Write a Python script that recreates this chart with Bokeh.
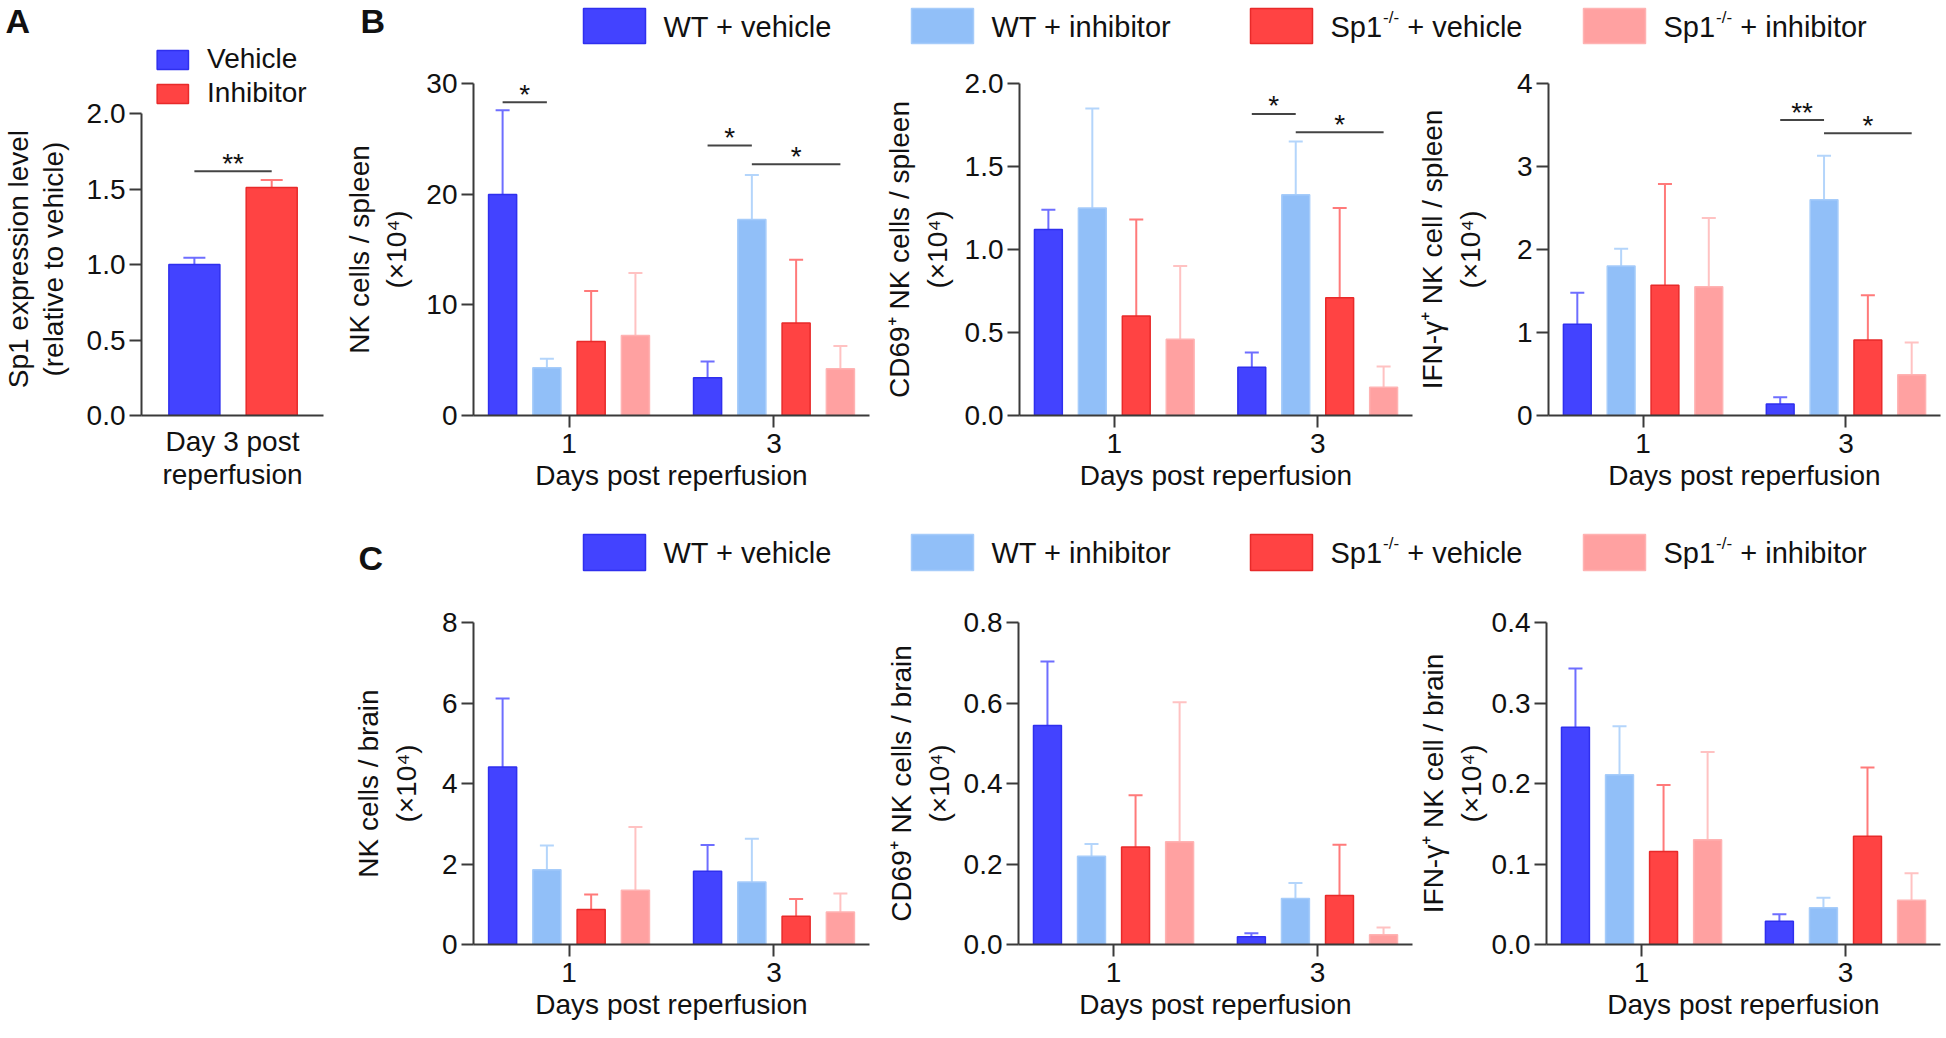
from bokeh.plotting import figure
from bokeh.layouts import row, column
from bokeh.models import Range1d, FixedTicker, Whisker, TeeHead, ColumnDataSource, Spacer
from bokeh.core.properties import value
from bokeh.embed import file_html
from bokeh.resources import INLINE

FONT = "Liberation Sans"
AX = "#3a3a3a"
TXT = "#111111"
NBSP = "\u00a0"

# ---------------- data ----------------
days = ["1", "3"]
series_labels = ["WT + vehicle", "WT + inhibitor", "Sp1-/- + vehicle", "Sp1-/- + inhibitor"]
series_fill = ["#4343FF", "#91BFF8", "#FF4343", "#FFA1A1"]
series_line = ["#2F2FEE", "#A6CCFA", "#E82A2A", "#FFB3B3"]
series_err = ["#6E6EFF", "#B4D5FB", "#FF7A7A", "#FFC2C2"]

a_groups = ["Vehicle", "Inhibitor"]
a_mean = [1.00, 1.51]
a_sem = [0.045, 0.05]
a_fill = ["#4343FF", "#FF4343"]
a_line = ["#2F2FEE", "#E82A2A"]
a_err = ["#6E6EFF", "#FF7A7A"]
a_ticks = [0.0, 0.5, 1.0, 1.5, 2.0]
a_tick_labels = ["0.0", "0.5", "1.0", "1.5", "2.0"]
a_sig = [(0, 1, 1.618, "**")]

# rows: series (WT+veh, WT+inh, Sp1+veh, Sp1+inh); columns: day 1, day 3
spleen_nk_mean = [[19.96, 3.41], [4.31, 17.70], [6.69, 8.35], [7.24, 4.22]]
spleen_nk_sem = [[7.63, 1.47], [0.82, 4.04], [4.56, 5.73], [5.63, 2.05]]
spleen_nk_ticks = [0, 10, 20, 30]
spleen_nk_tick_labels = ["0", "10", "20", "30"]
spleen_nk_sig = [(0, 0, 1, 28.3, "*"), (1, 0, 1, 24.4, "*"), (1, 1, 3, 22.7, "*")]

spleen_cd69_mean = [[1.12, 0.29], [1.25, 1.33], [0.60, 0.71], [0.46, 0.17]]
spleen_cd69_sem = [[0.12, 0.09], [0.60, 0.32], [0.58, 0.54], [0.44, 0.125]]
spleen_cd69_ticks = [0.0, 0.5, 1.0, 1.5, 2.0]
spleen_cd69_tick_labels = ["0.0", "0.5", "1.0", "1.5", "2.0"]
spleen_cd69_sig = [(1, 0, 1, 1.817, "*"), (1, 1, 3, 1.706, "*")]

spleen_ifng_mean = [[1.10, 0.14], [1.80, 2.60], [1.57, 0.91], [1.55, 0.49]]
spleen_ifng_sem = [[0.38, 0.08], [0.21, 0.53], [1.22, 0.54], [0.83, 0.39]]
spleen_ifng_ticks = [0, 1, 2, 3, 4]
spleen_ifng_tick_labels = ["0", "1", "2", "3", "4"]
spleen_ifng_sig = [(1, 0, 1, 3.56, "**"), (1, 1, 3, 3.40, "*")]

brain_nk_mean = [[4.41, 1.82], [1.86, 1.55], [0.87, 0.70], [1.35, 0.81]]
brain_nk_sem = [[1.70, 0.65], [0.60, 1.08], [0.37, 0.43], [1.57, 0.46]]
brain_nk_ticks = [0, 2, 4, 6, 8]
brain_nk_tick_labels = ["0", "2", "4", "6", "8"]

brain_cd69_mean = [[0.544, 0.019], [0.219, 0.114], [0.242, 0.122], [0.255, 0.024]]
brain_cd69_sem = [[0.159, 0.009], [0.031, 0.039], [0.129, 0.126], [0.347, 0.018]]
brain_cd69_ticks = [0.0, 0.2, 0.4, 0.6, 0.8]
brain_cd69_tick_labels = ["0.0", "0.2", "0.4", "0.6", "0.8"]

brain_ifng_mean = [[0.270, 0.029], [0.211, 0.0455], [0.1155, 0.1346], [0.130, 0.055]]
brain_ifng_sem = [[0.073, 0.0087], [0.060, 0.0125], [0.0825, 0.0854], [0.109, 0.0336]]
brain_ifng_ticks = [0.0, 0.1, 0.2, 0.3, 0.4]
brain_ifng_tick_labels = ["0.0", "0.1", "0.2", "0.3", "0.4"]

# ---------------- layout constants ----------------
OFFS = [-0.324, -0.108, 0.108, 0.324]
BAR_W = 0.137
XR = (-0.466, 1.466)
COLS = [(550, 143, 11), (534, 138, 2), (532, 131, 6)]  # width, min_border_left, min_border_right
LEG_X = [583, 911, 1250, 1583]   # page x of legend swatches
LEG_FS = 29
STAR_DY = -8

# Liberation Sans advance widths (per 1000 em)
CW = {"S": 667, "p": 556, "1": 556, " ": 278, "+": 584, "-": 333, "/": 278}


def tw(s, size):
    return sum(CW.get(c, 556) for c in s) * size / 1000.0


def style_axes(p, label_lh=1.2):
    for ax in list(p.xaxis) + list(p.yaxis):
        ax.axis_line_width = 2
        ax.axis_line_color = AX
        ax.major_tick_line_width = 2
        ax.major_tick_line_color = AX
        ax.major_tick_out = 12
        ax.major_tick_in = 0
        ax.minor_tick_line_color = None
        ax.major_label_text_font = FONT
        ax.major_label_text_font_size = "28px"
        ax.major_label_text_color = TXT
        ax.axis_label_text_font = FONT
        ax.axis_label_text_font_size = "28px"
        ax.axis_label_text_font_style = "normal"
        ax.axis_label_text_color = TXT
    p.yaxis.axis_label_text_line_height = label_lh
    p.yaxis.major_label_standoff = 4
    p.xgrid.visible = False
    p.ygrid.visible = False
    p.outline_line_color = None


def sig_marks(p, xs0, xs1, ys, labels):
    p.segment(x0=xs0, y0=ys, x1=xs1, y1=ys, line_color="#444444", line_width=2)
    p.text(x=[(a + b) / 2 for a, b in zip(xs0, xs1)], y=ys, text=labels,
           text_font=value(FONT), text_font_size="28px", text_color=TXT,
           text_align="center", text_baseline="alphabetic", y_offset=STAR_DY)


def bar_panel(mean, sem, ticks, tick_labels, ylabel, sig, col, height, mbt, mbb, lab_standoff):
    width, mbl, mbr = col
    p = figure(width=width, height=height, x_range=Range1d(*XR), y_range=Range1d(ticks[0], ticks[-1]),
               toolbar_location=None, output_backend="svg",
               min_border_left=mbl, min_border_right=mbr, min_border_top=mbt, min_border_bottom=mbb)
    for k in range(len(series_labels)):
        xs = [d + OFFS[k] for d in range(len(days))]
        src = ColumnDataSource(dict(x=xs, top=mean[k],
                                    upper=[m + s for m, s in zip(mean[k], sem[k])]))
        p.vbar(x="x", top="top", bottom=0, width=BAR_W, source=src,
               fill_color=series_fill[k], line_color=series_line[k], line_width=1.5)
        p.add_layout(Whisker(base="x", upper="upper", lower="top", source=src, dimension="height",
                             line_color=series_err[k], line_width=2, lower_head=None,
                             upper_head=TeeHead(size=14, line_color=series_err[k], line_width=2)))
    if sig:
        sig_marks(p, [d + OFFS[i] for d, i, j, y, t in sig], [d + OFFS[j] for d, i, j, y, t in sig],
                  [y for d, i, j, y, t in sig], [t for d, i, j, y, t in sig])
    style_axes(p, 1.22)
    p.xaxis.ticker = FixedTicker(ticks=list(range(len(days))))
    p.xaxis.major_label_overrides = {i: d for i, d in enumerate(days)}
    p.xaxis.major_label_standoff = 6
    p.xaxis.axis_label = "Days post reperfusion"
    p.xaxis.axis_label_standoff = 4
    p.yaxis.ticker = FixedTicker(ticks=ticks)
    p.yaxis.major_label_overrides = {t: l for t, l in zip(ticks, tick_labels)}
    p.yaxis.axis_label = ylabel
    p.yaxis.axis_label_standoff = lab_standoff
    return p


def strip(w, h):
    s = figure(width=w, height=h, x_range=Range1d(0, w), y_range=Range1d(h, 0), toolbar_location=None,
               output_backend="svg", x_axis_type=None, y_axis_type=None, min_border=0)
    s.outline_line_color = None
    return s


def txt(s, x, y, t, size=LEG_FS, bold=False):
    # y is the visual centre of the text line
    s.text(x=[x], y=[y], text=[t], text_font=value(FONT), text_font_size=f"{size}px",
           text_font_style="bold" if bold else "normal", text_color=TXT,
           text_align="left", text_baseline="alphabetic")


def draw_series_legend(s, x_shift, sw_top, sw_bot, mid):
    for k, lab in enumerate(series_labels):
        x0 = LEG_X[k] - x_shift
        s.quad(left=[x0], right=[x0 + 62], top=[sw_top], bottom=[sw_bot],
               fill_color=series_fill[k], line_color=series_line[k], line_width=1.5)
        tx = x0 + 80
        if "-/-" in lab:
            head, tail = lab.split("-/-")
            txt(s, tx, mid, head)
            sx = tx + tw(head, LEG_FS) + 1
            txt(s, sx, mid - 9, "-/-", size=17)
            lead = len(tail) - len(tail.lstrip())
            txt(s, sx + tw("-/-", 17) + tw(" " * lead, LEG_FS), mid, tail.lstrip())
        else:
            txt(s, tx, mid, lab)


# ---------------- strips with panel letters and the legend of B ----------------
A_STRIP_H = 40
strip_a = strip(330, A_STRIP_H)
txt(strip_a, 5, 20, "A", size=34, bold=True)

B_STRIP_H = 45
strip_b = strip(1616, B_STRIP_H)
txt(strip_b, 30, 20, "B", size=34, bold=True)
draw_series_legend(strip_b, 330, 8, 43, 26)

# ---------------- panel A ----------------
# the frame reaches up under the legend; the y axis itself is bounded to 0..2.0
A_W, A_L, A_R, A_T, A_B = 330, 137, 7, 0, 85
A_H = 500 - A_STRIP_H
A_XR = (-0.684, 1.67)
A_FRAME_W = A_W - A_L - A_R
A_FRAME_H = A_H - A_T - A_B
A_PX_PER_UNIT = 151.0
A_YMAX = A_FRAME_H / A_PX_PER_UNIT
A_FRAME_BOTTOM = A_STRIP_H + A_T + A_FRAME_H  # page y of value 0


def a_x(px):
    return A_XR[0] + (px - A_L) * (A_XR[1] - A_XR[0]) / A_FRAME_W


def a_y(py):
    return (A_FRAME_BOTTOM - py) / A_PX_PER_UNIT


pa = figure(width=A_W, height=A_H, x_range=Range1d(*A_XR), y_range=Range1d(0, A_YMAX),
            toolbar_location=None, output_backend="svg",
            min_border_left=A_L, min_border_right=A_R, min_border_top=A_T, min_border_bottom=A_B)
xa = list(range(len(a_groups)))
src_a = ColumnDataSource(dict(x=xa, top=a_mean, fill=a_fill, line=a_line))
pa.vbar(x="x", top="top", bottom=0, width=0.66, source=src_a, fill_color="fill", line_color="line",
        line_width=1.5)
for k in range(len(a_groups)):
    sk = ColumnDataSource(dict(x=[xa[k]], top=[a_mean[k]], upper=[a_mean[k] + a_sem[k]]))
    pa.add_layout(Whisker(base="x", upper="upper", lower="top", source=sk, dimension="height",
                          line_color=a_err[k], line_width=2, lower_head=None,
                          upper_head=TeeHead(size=22, line_color=a_err[k], line_width=2)))
sig_marks(pa, [xa[i] for i, j, y, t in a_sig], [xa[j] for i, j, y, t in a_sig],
          [y for i, j, y, t in a_sig], [t for i, j, y, t in a_sig])
style_axes(pa, 1.1)
pa.xaxis.ticker = FixedTicker(ticks=[])
pa.xaxis.major_tick_out = 0
pa.xaxis.axis_label = "Day 3 post\nreperfusion"
pa.xaxis.axis_label_text_line_height = 1.07
pa.xaxis.axis_label_standoff = 10
pa.yaxis.ticker = FixedTicker(ticks=a_ticks)
pa.yaxis.bounds = (a_ticks[0], a_ticks[-1])
pa.yaxis.major_label_overrides = {t: l for t, l in zip(a_ticks, a_tick_labels)}
# the label is centred on the (taller) frame; trailing no-break spaces re-centre it on the 0..2 axis
pad = NBSP * 8
pa.yaxis.axis_label = "Sp1 expression level" + pad + "\n(relative to vehicle)" + pad
pa.yaxis.axis_label_standoff = 15
for k, g in enumerate(a_groups):
    pa.quad(left=[a_x(153)], right=[a_x(185)], top=[a_y(50 + 34 * k)], bottom=[a_y(69 + 34 * k)],
            fill_color=a_fill[k], line_color=a_line[k], line_width=1.5)
    pa.text(x=[a_x(204)], y=[a_y(58 + 34 * k)], text=[g], text_font=value(FONT), text_font_size="28px",
            text_color=TXT, text_align="left", text_baseline="alphabetic")

# ---------------- panel B ----------------
B_H = 500 - B_STRIP_H
b1 = bar_panel(spleen_nk_mean, spleen_nk_sem, spleen_nk_ticks, spleen_nk_tick_labels,
               "NK cells / spleen\n(×10⁴)", spleen_nk_sig, COLS[0], B_H, 38, 85, 11)
b2 = bar_panel(spleen_cd69_mean, spleen_cd69_sem, spleen_cd69_ticks, spleen_cd69_tick_labels,
               "CD69⁺ NK cells / spleen\n(×10⁴)", spleen_cd69_sig, COLS[1], B_H, 38, 85, 9)
b3 = bar_panel(spleen_ifng_mean, spleen_ifng_sem, spleen_ifng_ticks, spleen_ifng_tick_labels,
               "IFN-γ⁺ NK cell / spleen\n(×10⁴)", spleen_ifng_sig, COLS[2], B_H, 38, 85, 28)

# ---------------- panel C ----------------
strip_c = strip(1616, 100)
txt(strip_c, 28, 57, "C", size=34, bold=True)
draw_series_legend(strip_c, 330, 34, 70, 52)
c1 = bar_panel(brain_nk_mean, brain_nk_sem, brain_nk_ticks, brain_nk_tick_labels,
               "NK cells / brain\n(×10⁴)", None, COLS[0], 438, 22, 94, 17)
c2 = bar_panel(brain_cd69_mean, brain_cd69_sem, brain_cd69_ticks, brain_cd69_tick_labels,
               "CD69⁺ NK cells / brain\n(×10⁴)", None, COLS[1], 438, 22, 94, 6)
c3 = bar_panel(brain_ifng_mean, brain_ifng_sem, brain_ifng_ticks, brain_ifng_tick_labels,
               "IFN-γ⁺ NK cell / brain\n(×10⁴)", None, COLS[2], 438, 22, 94, 2)

top_row = row(column(row(strip_a), row(pa)), column(strip_b, row(b1, b2, b3)))
bottom_row = row(Spacer(width=330, height=538), column(strip_c, row(c1, c2, c3)))
page = column(top_row, bottom_row)

open("out.html", "w").write(file_html(page, INLINE))
